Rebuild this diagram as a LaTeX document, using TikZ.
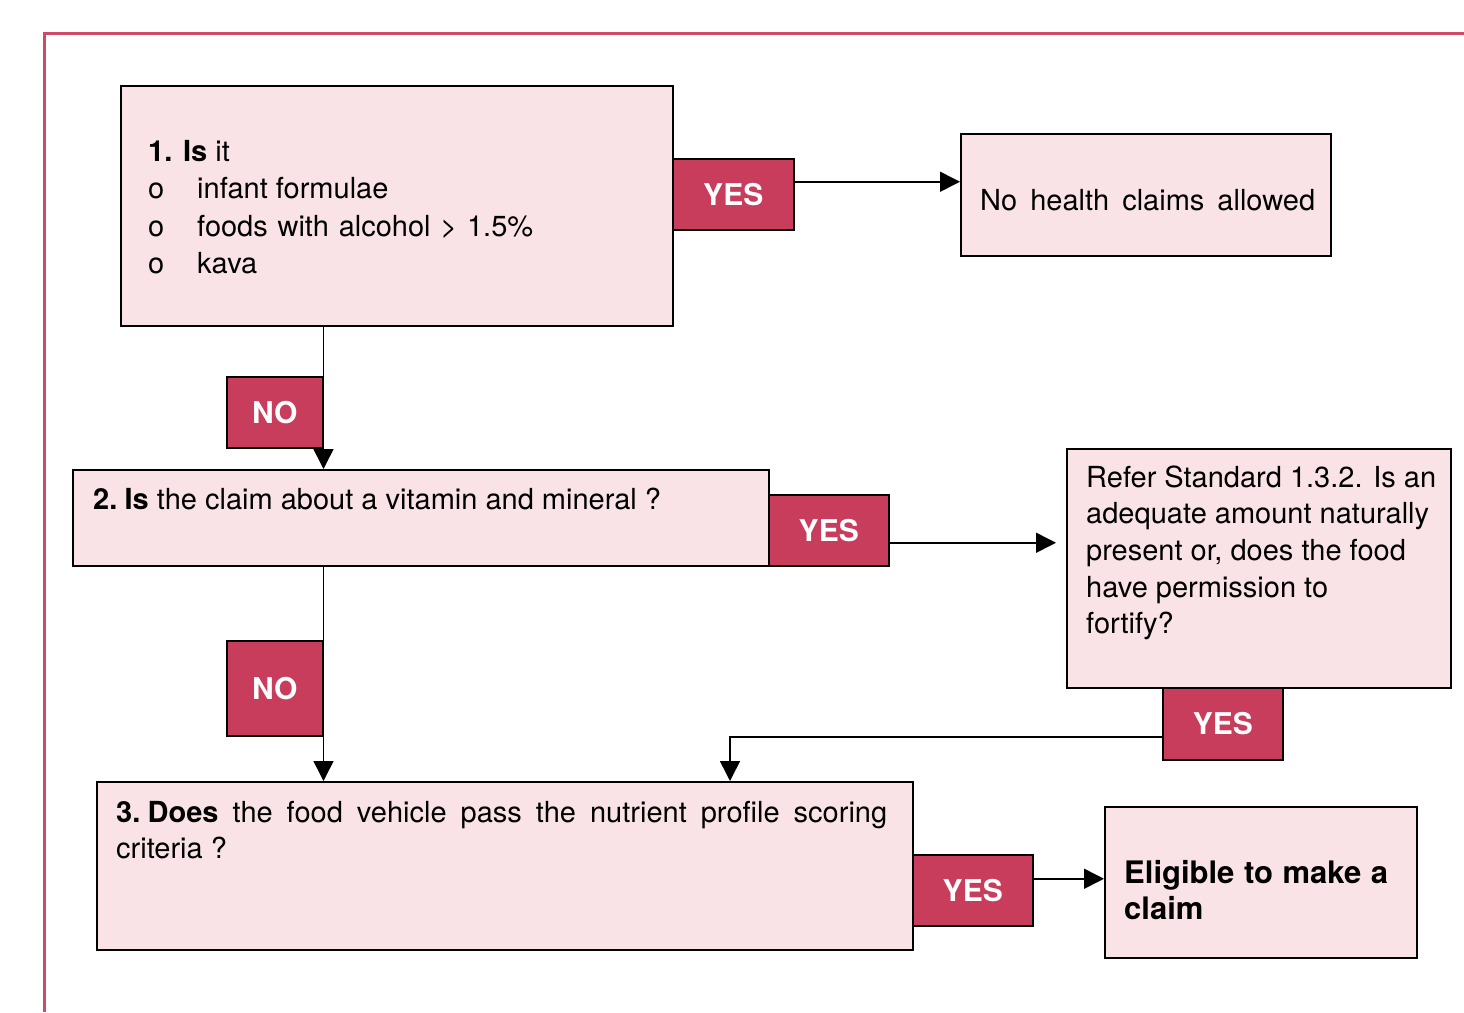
\documentclass[tikz,border=0pt]{standalone}
\usepackage{fontspec}
\setmainfont{TeX Gyre Heros}
\usetikzlibrary{arrows.meta}
\definecolor{boxpink}{HTML}{F9E3E6}
\definecolor{yesred}{HTML}{C93D5C}
\definecolor{framered}{HTML}{CF4A68}
\begin{document}
\begin{tikzpicture}[x=1pt,y=-1pt,
 pbox/.style={draw=black,fill=boxpink,line width=1.5pt,inner sep=0pt,anchor=north west},
 ybox/.style={draw=black,fill=yesred,line width=1.5pt,inner sep=0pt,anchor=north west,text=white,font=\fontsize{30}{35}\selectfont\bfseries},
 txt/.style={anchor=base west,inner sep=0pt,font=\fontsize{29}{36}\selectfont},
 btxt/.style={txt,font=\fontsize{31}{36}\selectfont\bfseries},
 arr/.style={line width=1.5pt,-{Triangle[length=20pt,width=20pt]}},
 conn/.style={line width=1.5pt}]
\useasboundingbox (0,0) rectangle (1464,1012);
\draw[framered,line width=3pt] (1464,33) -- (44,33) -- (44,1012);
% boxes
\node[pbox,minimum width=552pt,minimum height=240pt] (b1) at (120,85) {};
\node[ybox,minimum width=121pt,minimum height=71pt] (y1) at (672,158) {YES};
\node[pbox,minimum width=370pt,minimum height=122pt] (nh) at (960,133) {};
\node[pbox,minimum width=696pt,minimum height=96pt] (b2) at (72,469) {};
\node[ybox,minimum width=120pt,minimum height=71pt] (y2) at (768,494) {YES};
\node[pbox,minimum width=384pt,minimum height=239pt] (rf) at (1066,448) {};
\node[ybox,minimum width=120pt,minimum height=72pt] (y3) at (1162,687) {YES};
\node[ybox,minimum width=96pt,minimum height=71pt] (n1) at (226,376) {NO};
\node[ybox,minimum width=96pt,minimum height=95pt] (n2) at (226,640) {NO};
\node[pbox,minimum width=816pt,minimum height=168pt] (b3) at (96,781) {};
\node[ybox,minimum width=120pt,minimum height=71pt] (y4) at (912,854) {YES};
\node[pbox,minimum width=312pt,minimum height=151pt] (el) at (1104,806) {};
% texts
\node[txt] (t1a) at (148,161) {\textbf{1. Is} it};
\node[txt] (t1b) at (148,198) {o};
\node[txt] (t1c) at (197,198) {infant formulae};
\node[txt] (t1d) at (148,236) {o};
\node[txt] (t1e) at (197,236) {\makebox[336pt][s]{foods with alcohol > 1.5\%}};
\node[txt] (t1f) at (148,273) {o};
\node[txt] (t1g) at (197,273) {kava};
\node[txt] (tnh) at (980,210) {\makebox[335pt][s]{No health claims allowed}};
\node[txt] (t2) at (93,509) {\textbf{2.\hspace{0.25em}Is} the claim about a vitamin and mineral ?};
\node[txt] (tr1) at (1086,487) {Refer Standard 1.3.2. Is an};
\node[txt] (tr2) at (1086,523) {adequate amount naturally};
\node[txt] (tr3) at (1086,560) {present or, does the food};
\node[txt] (tr4) at (1086,597) {have permission to};
\node[txt] (tr5) at (1086,633) {fortify?};
\node[txt] (t3a) at (116,822) {\makebox[771pt][s]{\textbf{3.\hspace{0.25em}Does} the food vehicle pass the nutrient profile scoring}};
\node[txt] (t3b) at (116,858) {criteria ?};
\node[btxt] (te1) at (1124,883) {\makebox[264pt][s]{Eligible to make a}};
\node[btxt] (te2) at (1124,919) {claim};
% connectors
\coordinate (c3) at (730,0);
\draw[arr] ([yshift=12.5pt]y1.east) -- ([yshift=12.5pt]y1.east -| nh.west);
\draw[arr] (b1.south -| n1.east) -- (b2.north -| n1.east);
\draw[arr] (b2.south -| n2.east) -- (b3.north -| n2.east);
\draw[arr,shorten >=10pt] ([yshift=-12.5pt]y2.east) -- ([yshift=-12.5pt]y2.east -| rf.west);
\draw[arr] ([yshift=-13pt]y3.west) -| (b3.north -| c3);
\draw[arr] ([yshift=11.5pt]y4.east) -- ([yshift=11.5pt]y4.east -| el.west);
\end{tikzpicture}
\end{document}
